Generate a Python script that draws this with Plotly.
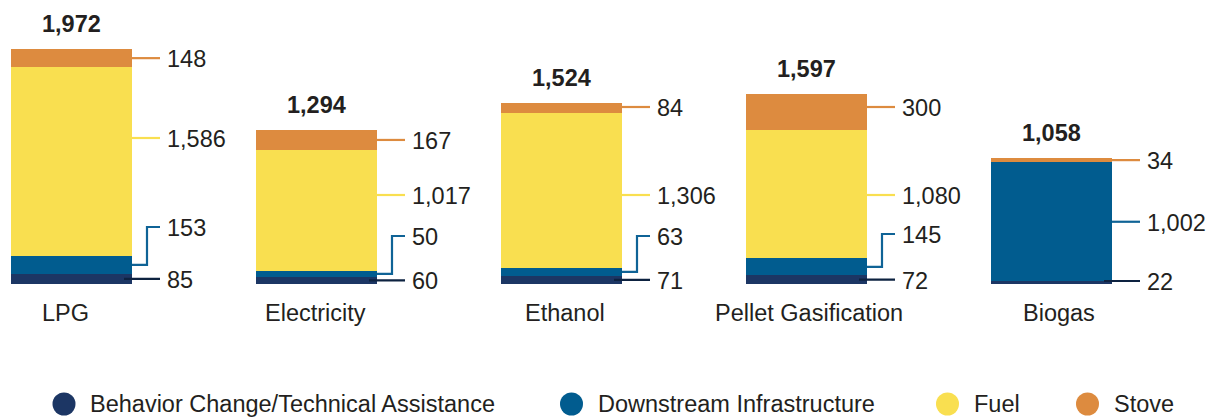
import plotly.graph_objects as go

# ---- data -------------------------------------------------------------
categories = ["LPG", "Electricity", "Ethanol", "Pellet Gasification", "Biogas"]
behavior = [85, 60, 71, 72, 22]
downstream = [153, 50, 63, 145, 1002]
fuel = [1586, 1017, 1306, 1080, 0]
stove = [148, 167, 84, 300, 34]
totals = [1972, 1294, 1524, 1597, 1058]

series_names = ["Behavior Change/Technical Assistance", "Downstream Infrastructure", "Fuel", "Stove"]

# ---- styling / layout constants --------------------------------------
W, H = 1211, 417
PLOT_H = 284                  # pixel height of the plotting area
PX_PER_CAT = 245              # horizontal pixels between bar centres
FIRST_CENTER_PX = 71.5
PX_PER_UNIT = 0.119           # vertical pixels per value unit
BAR_PX = 121

COLORS = ["#1c3664", "#015c8f", "#f9df50", "#dd8b3f"]
LEADER_COLORS = ["#0d2240", "#0f6396", "#f9df50", "#dd8b3f"]
TEXT = "#231f20"
FONT = "Liberation Sans, Arial, Helvetica, sans-serif"
FS = 23.5

# value-label positions (pixels from the top of the figure), per bar,
# ordered like the stack; None places the label at the segment middle
label_pos_px = [
    [None, 227, 138, None],
    [None, 236, 195, None],
    [None, 236, 195, 107],
    [None, 234, 195, 107],
    [281, None, None, None],
]
# horizontal nudge (pixels) of each category name relative to its bar
name_shift_px = [-6.5, -1, 3, 2, 7]


def dx(px):
    return px / PX_PER_CAT


def px_to_val(py):
    return (PLOT_H - py) / PX_PER_UNIT


x_idx = list(range(len(categories)))
bar_w = dx(BAR_PX)

fig = go.Figure()
stacks = [behavior, downstream, fuel, stove]
for name, vals, col in zip(series_names, stacks, COLORS):
    fig.add_trace(go.Bar(
        x=x_idx, y=vals, name=name, width=bar_w,
        marker=dict(color=col, line=dict(width=0)),
        hoverinfo="skip", showlegend=False,
    ))

shapes = []
annotations = []

for i in x_idx:
    xr = i + bar_w / 2
    base = 0.0
    for k, vals in enumerate(stacks):
        v = vals[i]
        lo, hi = base, base + v
        base = hi
        if v == 0:
            continue
        mid = (lo + hi) / 2
        pos = label_pos_px[i][k]
        ly = mid if pos is None else px_to_val(pos)
        col = LEADER_COLORS[k]
        if k == 0:
            path = f"M {xr - dx(8)},{ly} L {xr + dx(28)},{ly}"
        elif lo <= ly <= hi:
            path = f"M {xr},{ly} L {xr + dx(28)},{ly}"
        else:
            path = (f"M {xr},{mid} L {xr + dx(15)},{mid} "
                    f"L {xr + dx(15)},{ly} L {xr + dx(28)},{ly}")
        shapes.append(dict(type="path", path=path, xref="x", yref="y",
                           line=dict(color=col, width=2.2), layer="above"))
        annotations.append(dict(
            x=xr + dx(33), y=ly, xref="x", yref="y", text=f"{v:,}",
            showarrow=False, xanchor="left", yanchor="middle", yshift=-1,
            font=dict(family=FONT, size=FS, color=TEXT),
        ))

    # total above the bar
    annotations.append(dict(
        x=i, y=totals[i], xref="x", yref="y", text=f"<b>{totals[i]:,}</b>",
        showarrow=False, xanchor="center", yanchor="middle", yshift=25,
        font=dict(family=FONT, size=FS, color=TEXT),
    ))
    # category name below the bar
    annotations.append(dict(
        x=i + dx(name_shift_px[i]), y=0, xref="x", yref="y", text=categories[i],
        showarrow=False, xanchor="center", yanchor="middle", yshift=-29,
        font=dict(family=FONT, size=FS, color=TEXT),
    ))

# ---- legend -------------------------------------------------------------
legend_centers_px = [64, 571.5, 947.5, 1087.5]
legend_y_paper = (PLOT_H - 404) / PLOT_H
for cx, name, col in zip(legend_centers_px, series_names, COLORS):
    shapes.append(dict(
        type="circle", xref="paper", yref="paper",
        xsizemode="pixel", ysizemode="pixel",
        xanchor=cx / W, yanchor=legend_y_paper,
        x0=-11.5, x1=11.5, y0=-11.5, y1=11.5,
        fillcolor=col, line=dict(width=0),
    ))
    annotations.append(dict(
        x=(cx + 24) / W, y=legend_y_paper, xref="paper", yref="paper",
        text=name, showarrow=False, xanchor="left", yanchor="middle",
        font=dict(family=FONT, size=FS, color=TEXT),
    ))

fig.update_layout(
    width=W, height=H,
    margin=dict(l=0, r=0, t=0, b=H - PLOT_H, pad=0),
    barmode="stack",
    bargap=0,
    paper_bgcolor="white",
    plot_bgcolor="white",
    xaxis=dict(range=[-FIRST_CENTER_PX / PX_PER_CAT, (W - FIRST_CENTER_PX) / PX_PER_CAT],
               visible=False, fixedrange=True),
    yaxis=dict(range=[0, PLOT_H / PX_PER_UNIT], visible=False, fixedrange=True),
    shapes=shapes,
    annotations=annotations,
    showlegend=False,
)

fig.write_html("out.html", config={"displayModeBar": False})
